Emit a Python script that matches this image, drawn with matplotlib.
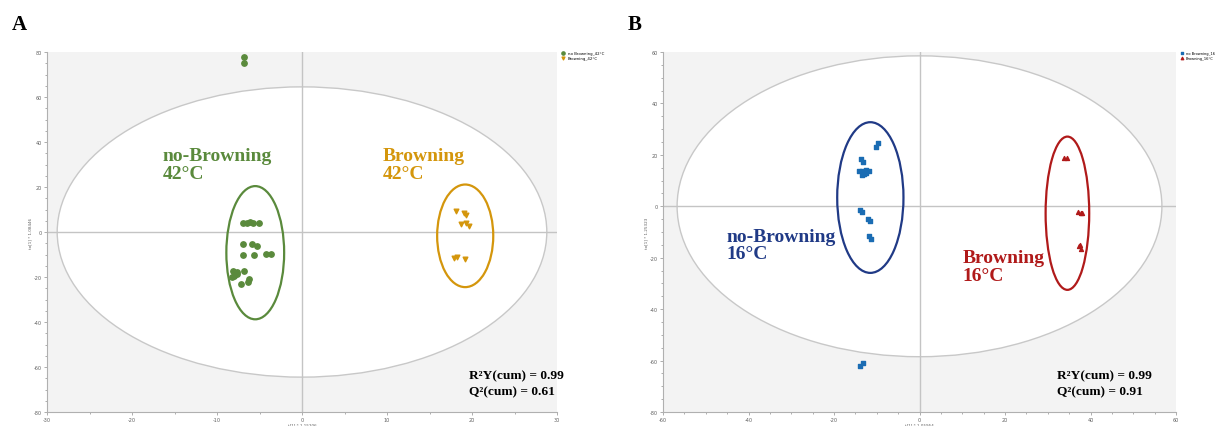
import numpy as np
import matplotlib
matplotlib.use("Agg")
import matplotlib.pyplot as plt
from matplotlib.patches import Ellipse
from matplotlib.ticker import MultipleLocator, AutoMinorLocator

plt.rcParams["axes.unicode_minus"] = False

# panel A: 42 C
nb42_x = [-6.9, -6.5, -6.1, -5.8, -5.1, -7.0, -5.9, -5.3, -7.0, -5.6, -4.2, -3.6,
          -8.1, -7.7, -8.0, -8.2, -7.6, -6.8, -6.2, -6.3, -7.2, -6.8, -6.8]
nb42_y = [4.2, 4.0, 4.4, 4.1, 4.0, -5.5, -5.5, -6.2, -10.3, -10.3, -9.9, -9.9,
          -17.3, -17.8, -19.5, -20.0, -18.8, -17.3, -20.7, -22.0, -23.2, 78.0, 75.0]
br42_x = [18.1, 19.1, 19.3, 18.7, 19.3, 19.7, 17.9, 18.2, 19.2]
br42_y = [9.3, 8.6, 7.5, 3.4, 3.9, 2.7, -11.4, -11.1, -12.1]

# panel B: 16 C
nb16_x = [-10.2, -9.8, -13.8, -13.3, -14.2, -13.4, -12.6, -11.8, -13.4, -13.0, -12.4,
          -13.9, -13.5, -12.0, -11.6, -11.8, -11.4, -13.9, -13.3]
nb16_y = [23.2, 24.6, 18.2, 17.1, 13.6, 13.9, 14.2, 13.6, 12.0, 12.6, 13.0,
          -1.6, -2.3, -4.9, -5.8, -11.7, -12.7, -62.3, -60.9]
br16_x = [33.8, 34.4, 37.1, 37.7, 38.1, 37.4, 37.7, 37.5]
br16_y = [18.6, 18.8, -2.3, -2.6, -2.8, -15.6, -16.6, -14.9]

serif = ["Liberation Serif", "DejaVu Serif"]
green = "#5a8a3c"
gold = "#d4960c"
blue = "#1a6cb3"
navy = "#203a86"
red = "#b01a1a"

fig = plt.figure(figsize=(12.15, 4.27), dpi=100)
W, H = 1215, 427


def setup(ax, xlim, ylim, xstep, xminor, xlab, ylab, t2):
    ax.set_facecolor("#f3f3f3")
    ax.set_xlim(*xlim)
    ax.set_ylim(*ylim)
    for s in ["top", "right"]:
        ax.spines[s].set_visible(False)
    for s in ["left", "bottom"]:
        ax.spines[s].set_color("#b0b0b0")
        ax.spines[s].set_linewidth(0.8)
    ax.xaxis.set_major_locator(MultipleLocator(xstep))
    ax.yaxis.set_major_locator(MultipleLocator(20))
    ax.xaxis.set_minor_locator(AutoMinorLocator(xminor))
    ax.yaxis.set_minor_locator(AutoMinorLocator(4))
    ax.tick_params(which="both", colors="#a0a0a0", labelsize=3.5, labelcolor="#606060",
                   length=2, width=0.6, pad=1.5)
    ax.tick_params(which="minor", length=1.2)
    ax.set_xlabel(xlab, fontsize=3, color="#606060", labelpad=0.5)
    ax.set_ylabel(ylab, fontsize=3, color="#606060", labelpad=1)
    ax.add_patch(Ellipse((0, 0), 2 * t2[0], 2 * t2[1], facecolor="white",
                         edgecolor="#c8c8c8", lw=1.0, zorder=1))
    ax.axhline(0, color="#c4c4c4", lw=1.0, zorder=2)
    ax.axvline(0, color="#c4c4c4", lw=1.0, zorder=2)


# left panel
ax1 = fig.add_axes([47 / W, 1 - 413 / H, 510 / W, 360 / H])
setup(ax1, (-30, 30), (-80, 80), 10, 2, "t[1] * 1.15206", "to[1] * 1.08446", (28.8, 64.5))
ax1.scatter(nb42_x, nb42_y, marker="o", s=15, color=green, label="no Browning_42\u00b0C", zorder=4)
ax1.scatter(br42_x, br42_y, marker="v", s=11, color=gold, label="Browning_42\u00b0C", zorder=4)
ax1.add_patch(Ellipse((-5.5, -9.2), 6.8, 59.2, fill=False, edgecolor=green, lw=1.6, zorder=3))
ax1.add_patch(Ellipse((19.2, -1.7), 6.6, 45.6, fill=False, edgecolor=gold, lw=1.6, zorder=3))
ax1.text(-16.4, 37.8, "no-Browning\n42\u00b0C", color=green, fontsize=14, fontweight="bold",
         family=serif, va="top", ha="left", linespacing=1.05, zorder=5)
ax1.text(9.5, 37.8, "Browning\n42\u00b0C", color=gold, fontsize=14, fontweight="bold",
         family=serif, va="top", ha="left", linespacing=1.05, zorder=5)
ax1.text(0.828, 0.12, "R\u00b2Y(cum) = 0.99\nQ\u00b2(cum) = 0.61", transform=ax1.transAxes,
         fontsize=9.6, fontweight="bold", family=serif, va="top", ha="left",
         linespacing=1.45, zorder=5)
ax1.legend(loc="upper left", bbox_to_anchor=(1.0, 1.01), fontsize=2.8, frameon=False,
           handletextpad=0.2, markerscale=0.6, borderaxespad=0.2, labelspacing=0.3)

# right panel
ax2 = fig.add_axes([663 / W, 1 - 413 / H, 513 / W, 360 / H])
setup(ax2, (-60, 60), (-80, 60), 20, 4, "t[1] * 1.05954", "to[1] * 1.25323", (56.7, 58.5))
ax2.scatter(nb16_x, nb16_y, marker="s", s=11, color=blue, label="no Browning_16", zorder=4)
ax2.scatter(br16_x, br16_y, marker="^", s=8, color=red, label="Browning_16\u00b0C", zorder=4)
ax2.add_patch(Ellipse((-11.5, 3.4), 15.5, 58.6, fill=False, edgecolor=navy, lw=1.6, zorder=3))
ax2.add_patch(Ellipse((34.6, -2.7), 10.2, 59.6, fill=False, edgecolor=red, lw=1.6, zorder=3))
ax2.text(-45.1, -8.3, "no-Browning\n16\u00b0C", color=navy, fontsize=14, fontweight="bold",
         family=serif, va="top", ha="left", linespacing=1.05, zorder=5)
ax2.text(10.1, -16.8, "Browning\n16\u00b0C", color=red, fontsize=14, fontweight="bold",
         family=serif, va="top", ha="left", linespacing=1.05, zorder=5)
ax2.text(0.768, 0.12, "R\u00b2Y(cum) = 0.99\nQ\u00b2(cum) = 0.91", transform=ax2.transAxes,
         fontsize=9.6, fontweight="bold", family=serif, va="top", ha="left",
         linespacing=1.45, zorder=5)
ax2.legend(loc="upper left", bbox_to_anchor=(1.0, 1.01), fontsize=2.6, frameon=False,
           handletextpad=0.2, markerscale=0.6, borderaxespad=0.2, labelspacing=0.3)

fig.text(12 / W, 1 - 30 / H, "A", fontsize=15, fontweight="bold", family=serif, va="baseline")
fig.text(628 / W, 1 - 30 / H, "B", fontsize=15, fontweight="bold", family=serif, va="baseline")

fig.savefig("out.png", dpi=100)
